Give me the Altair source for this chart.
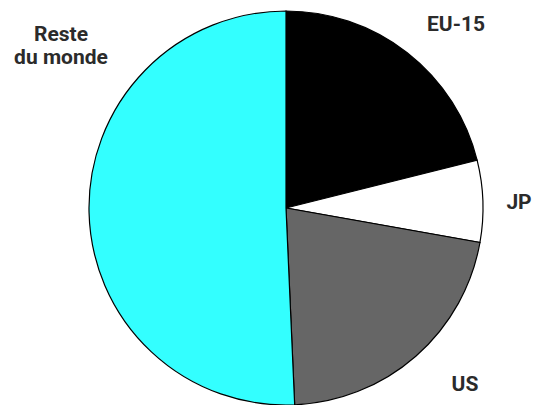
import altair as alt
import pandas as pd

regions = ["EU-15", "JP", "US", "Reste du monde"]
shares = [21.1, 6.7, 21.5, 50.7]
colors = ["#000000", "#ffffff", "#666666", "#33ffff"]

df = pd.DataFrame({"region": regions, "share": shares, "idx": list(range(len(regions)))})

cx, cy, r = 278, 200, 197

pie = alt.Chart(df).mark_arc(stroke="#000000", strokeWidth=1.2).encode(
    theta=alt.Theta("share:Q", stack=True),
    order=alt.Order("idx:Q"),
    color=alt.Color("region:N", scale=alt.Scale(domain=regions, range=colors), legend=None),
    x=alt.value(cx),
    y=alt.value(cy),
    radius=alt.value(r),
)

label_pos = {
    "EU-15": (448, 17),
    "JP": (511, 195),
    "US": (457, 377),
    "Reste du monde": (53, 27),
}

layers = [pie]
for name in regions:
    lx, ly = label_pos[name]
    txt = alt.Chart(pd.DataFrame({"t": [name.replace("Reste du monde", "Reste\ndu monde")]})).mark_text(
        font="Roboto", fontWeight="bold", fontSize=21, color="#2b2b2b",
        align="center", baseline="middle", lineBreak="\n", lineHeight=23,
    ).encode(text="t:N", x=alt.value(lx), y=alt.value(ly))
    layers.append(txt)

chart = alt.layer(*layers).properties(
    width=526, height=397, autosize=alt.AutoSizeParams(type="none"), padding=0
).configure_view(stroke=None)

chart.save("out.html", embed_options={"renderer": "svg", "actions": False})
